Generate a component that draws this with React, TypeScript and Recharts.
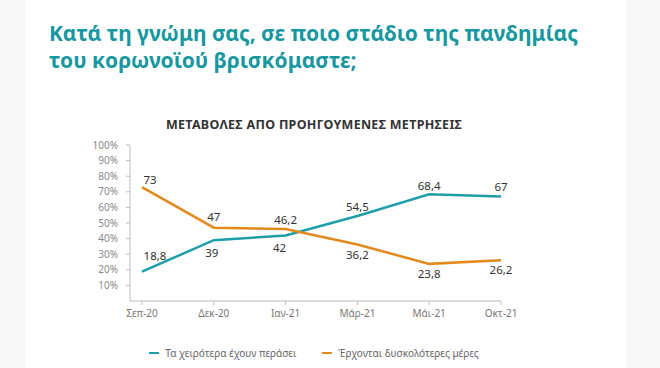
import { LineChart, Line, XAxis, YAxis, Legend, LabelList } from "recharts";

// survey waves
const months = ["Σεπ-20", "Δεκ-20", "Ιαν-21", "Μάρ-21", "Μάι-21", "Οκτ-21"];
// % answering "the worst is over"
const worstPassed = [18.8, 39, 42, 54.5, 68.4, 67];
// % answering "harder days are coming"
const harderDays = [73, 47, 46.2, 36.2, 23.8, 26.2];
const yTicks = [10, 20, 30, 40, 50, 60, 70, 80, 90, 100];
const worstName = "Τα χειρότερα έχουν περάσει";
const harderName = "Έρχονται δυσκολότερες μέρες";
const legendOrder = [worstName, harderName];

const title1 = "Κατά τη γνώμη σας, σε ποιο στάδιο της πανδημίας";
const title2 = "του κορωνοϊού βρισκόμαστε;";
const subtitle = "ΜΕΤΑΒΟΛΕΣ ΑΠΟ ΠΡΟΗΓΟΥΜΕΝΕΣ ΜΕΤΡΗΣΕΙΣ";

const TEAL = "#1e9ea8";
const ORANGE = "#e38a1d";
const FONT = "'Noto Sans', sans-serif";

// label nudges (px) for each point, teal then orange
const tealDx = [13, -2, -6, 0, 0, 0];
const tealDy = [-16, 12, 12, -9, -9, -10];
const orangeDx = [8, 0, 0, 0, 0, 0];
const orangeDy = [-8, -11, -9, 10, 10, 9];

const data = months.map((m, i) => ({
  month: m,
  worst: worstPassed[i],
  harder: harderDays[i],
}));

const fmt = (v: number) => String(v).replace(".", ",");

function makeLabel(dxs: number[], dys: number[]) {
  return (props: any) => {
    const { x, y, value, index } = props;
    const i = typeof index === "number" ? index : 0;
    return (
      <text
        x={x + dxs[i]}
        y={y + dys[i]}
        textAnchor="middle"
        dominantBaseline="central"
        fontSize={11.5}
        fontFamily={FONT}
        fill="#333"
      >
        {fmt(value)}
      </text>
    );
  };
}

function LegendContent(props: any) {
  const items = [...(props.payload || [])].sort(
    (a: any, b: any) => legendOrder.indexOf(a.value) - legendOrder.indexOf(b.value)
  );
  return (
    <div style={{ display: "flex", justifyContent: "center", fontFamily: FONT, fontSize: 10, color: "#666" }}>
      {items.map((it: any, i: number) => (
        <div key={i} style={{ display: "flex", alignItems: "center", marginRight: i === 0 ? 26 : 0 }}>
          <span style={{ width: 10, height: 2, background: it.color, marginRight: 6 }} />
          {it.value}
        </div>
      ))}
    </div>
  );
}

export default function App() {
  return (
    <div style={{ position: "absolute", left: 0, top: 0, width: 660, height: 368, background: "#fff", overflow: "hidden" }}>
      <div style={{ position: "absolute", left: 0, top: 0, width: 25, height: 368, background: "#f8f8f8" }} />
      <div style={{ position: "absolute", left: 627, top: 0, width: 33, height: 368, background: "#f8f8f8" }} />
      <div
        style={{
          position: "absolute",
          left: 49,
          top: 20,
          fontFamily: FONT,
          fontWeight: 700,
          fontSize: 21,
          lineHeight: "27px",
          color: "#17979f",
          whiteSpace: "nowrap",
        }}
      >
        <div>{title1}</div>
        <div>{title2}</div>
      </div>
      <div
        style={{
          position: "absolute",
          left: 0,
          top: 116,
          width: 628,
          textAlign: "center",
          fontFamily: FONT,
          fontWeight: 700,
          fontSize: 12.5,
          letterSpacing: 0.3,
          color: "#333",
        }}
      >
        {subtitle}
      </div>
      <div style={{ position: "absolute", left: 0, top: 0 }}>
        <LineChart width={660} height={368} data={data} margin={{ top: 145, right: 159, left: 80, bottom: 37 }}>
          <XAxis
            dataKey="month"
            padding={{ left: 12, right: 0 }}
            stroke="#bdbdbd"
            tickSize={4}
            tickMargin={5}
            height={30}
            tick={{ fill: "#777", fontSize: 10, fontFamily: FONT }}
            interval={0}
          />
          <YAxis
            domain={[0, 100]}
            ticks={yTicks}
            interval={0}
            width={50}
            stroke="#bdbdbd"
            tickSize={4}
            tickMargin={8}
            tickFormatter={(v) => `${v}%`}
            tick={{ fill: "#8a8a8a", fontSize: 10, fontFamily: FONT }}
          />
          <Legend
            verticalAlign="middle"
            align="center"
            layout="horizontal"
            wrapperStyle={{ top: 346, left: 0, width: 628 }}
            content={<LegendContent />}
          />
          <Line
            name={worstName}
            dataKey="worst"
            stroke={TEAL}
            strokeWidth={2.5}
            dot={false}
            activeDot={false}
            isAnimationActive={false}
          >
            <LabelList dataKey="worst" content={makeLabel(tealDx, tealDy)} />
          </Line>
          <Line
            name={harderName}
            dataKey="harder"
            stroke={ORANGE}
            strokeWidth={2.5}
            dot={false}
            activeDot={false}
            isAnimationActive={false}
          >
            <LabelList dataKey="harder" content={makeLabel(orangeDx, orangeDy)} />
          </Line>
        </LineChart>
      </div>
    </div>
  );
}
